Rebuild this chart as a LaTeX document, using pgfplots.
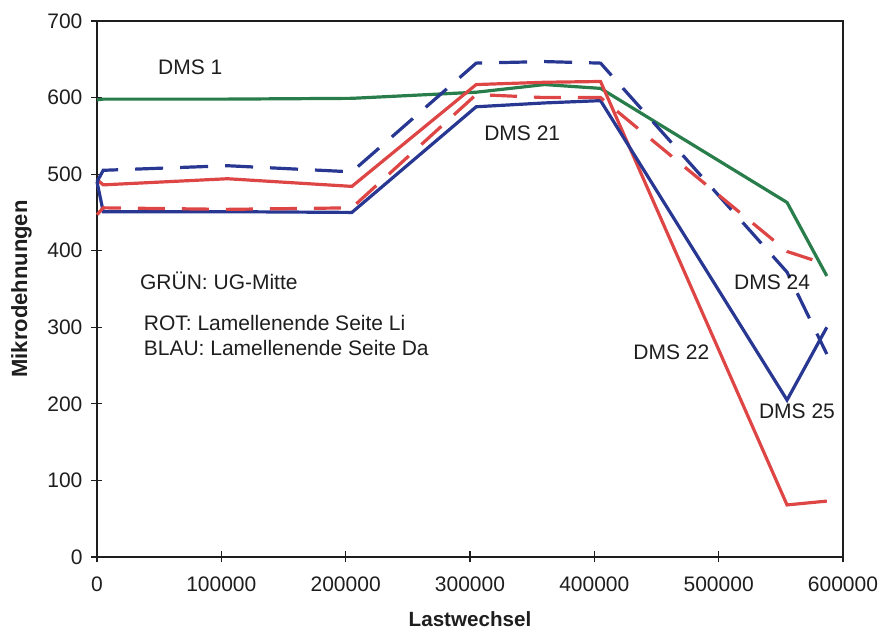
\documentclass[border=0pt]{standalone}
\usepackage{pgfplots}
\pgfplotsset{compat=1.18}
\usepackage{fontspec}
\setmainfont{Liberation Sans}
\usetikzlibrary{calc}
\definecolor{cgreen}{RGB}{40,125,75}
\definecolor{cred}{RGB}{222,70,70}
\definecolor{cblue}{RGB}{40,55,145}
\definecolor{ctext}{RGB}{30,30,30}
\begin{document}
\begin{tikzpicture}
\begin{axis}[
  scale only axis, width=373pt, height=268pt,
  xmin=0, xmax=600000, ymin=0, ymax=700,
  xtick={0,100000,...,600000}, ytick={0,100,...,700},
  axis x line*=bottom, axis y line*=left,
  axis line style={ctext, line width=1pt, -},
  tick align=center, major tick length=5.5pt,
  tick style={ctext, line width=0.6pt},
  scaled x ticks=false,
  /pgf/number format/assume math mode=true,
  xticklabel={\pgfmathprintnumber[fixed,1000 sep={}]{\tick}},
  yticklabel={\pgfmathprintnumber[fixed,1000 sep={}]{\tick}},
  ticklabel style={font=\fontsize{10.5}{12}\selectfont, text=ctext},
  xticklabel style={yshift=-3.5pt},
  yticklabel style={xshift=-1pt},
  xlabel={\textbf{Lastwechsel}}, ylabel={\textbf{Mikrodehnungen}},
  xlabel style={font=\fontsize{10.3}{12}\selectfont, text=ctext, yshift=-3pt},
  ylabel style={font=\fontsize{11}{12}\selectfont, text=ctext, yshift=1pt},
  clip=false,
]
\coordinate (SW) at (rel axis cs:0,0);
\coordinate (NE) at (rel axis cs:1,1);
\draw[ctext, line width=1pt] (rel axis cs:0,1) -- (rel axis cs:1,1) -- (rel axis cs:1,0);
% green DMS 1
\addplot[cgreen, line width=1.6pt] coordinates {
 (0,597) (5000,598) (105000,598) (205000,599) (305000,607) (360000,617) (405000,612) (555000,463) (587000,367)};
% red solid
\addplot[cred, line width=1.6pt] coordinates {
 (0,493) (5000,486) (105000,494) (205000,484) (305000,617) (360000,620) (405000,621) (555000,68) (587000,73)};
% blue solid
\addplot[cblue, line width=1.6pt] coordinates {
 (0,490) (5000,451) (105000,451) (205000,450) (305000,588) (360000,593) (405000,596) (555000,205) (587000,300)};
% blue dashed
\addplot[cblue, line width=1.6pt, dash pattern=on 14pt off 8.5pt] coordinates {
 (0,490) (5000,505) (105000,511) (205000,503) (305000,645) (360000,647) (405000,645) (555000,372) (587000,265)};
% red dashed
\addplot[cred, line width=1.6pt, dash pattern=on 13.5pt off 8.5pt] coordinates {
 (0,447) (5000,456) (105000,454) (205000,456) (305000,604) (360000,600) (405000,600) (555000,399) (587000,382)};
\begin{scope}[font=\fontsize{10.5}{12}\selectfont, text=ctext]
\node at (axis cs:75000,639) {DMS 1};
\node at (axis cs:342000,554) {DMS 21};
\node at (axis cs:543000,359) {DMS 24};
\node at (axis cs:462000,267) {DMS 22};
\node at (axis cs:563000,190) {DMS 25};
\node[anchor=west] at (axis cs:29000,361) {GRÜN: UG-Mitte};
\node[anchor=west] at (axis cs:32000,306) {ROT: Lamellenende Seite Li};
\node[anchor=west] at (axis cs:32000,273) {BLAU: Lamellenende Seite Da};
\end{scope}
\end{axis}
\pgfresetboundingbox
\path ($(SW)+(-48.5pt,-38.5pt)$) rectangle ($(NE)+(20pt,10.5pt)$);
\end{tikzpicture}
\end{document}
